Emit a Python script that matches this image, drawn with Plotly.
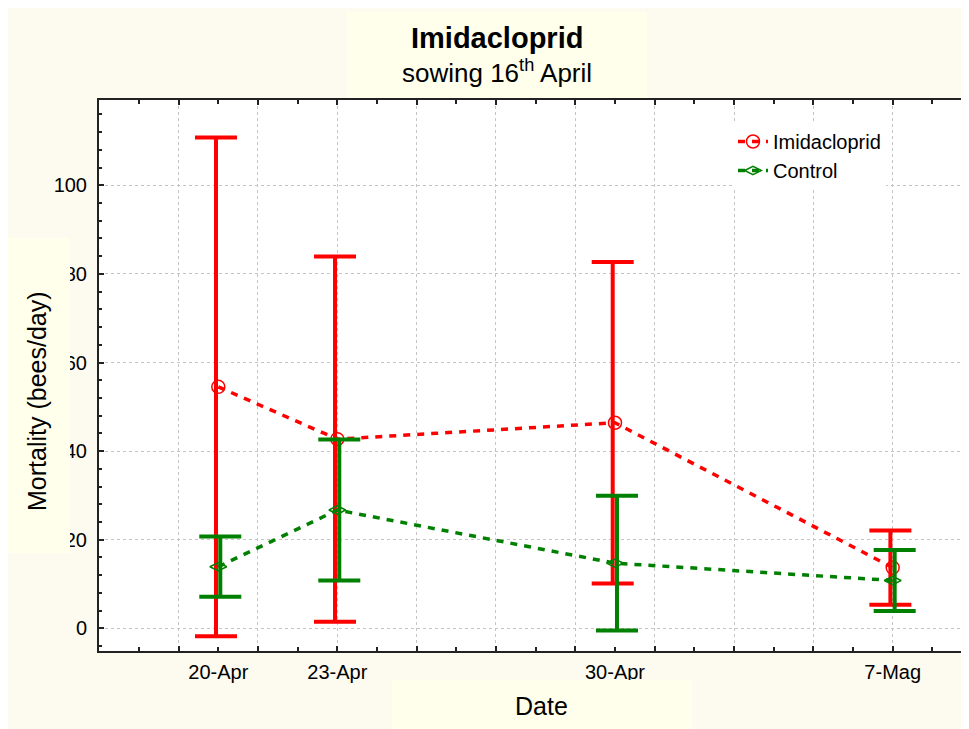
import plotly.graph_objects as go

# ---------------- data ----------------
dates = ["20-Apr", "23-Apr", "30-Apr", "7-Mag"]
day_index = [0, 3, 10, 17]              # days after 20 April
imid_mean = [54.5, 42.7, 46.4, 13.7]
imid_err = [56.3, 41.2, 36.3, 8.4]
ctrl_mean = [13.9, 26.7, 14.7, 10.8]
ctrl_err = [6.8, 15.9, 15.2, 6.9]
y_ticks = [0, 20, 40, 60, 80, 100]

# ---------------- layout helpers (page pixel coords) ----------------
OFF = 8                      # page body margin
W, H = 969 - OFF, 729 - OFF
L, R, T, B = 99, 969, 100, 651   # plot area in page pixels


def px(x):
    return (x - L) / (R - L)


def py(y):
    return (B - y) / (B - T)


RED = "#ff0000"
GREEN = "#008000"
CREAM = "rgb(253,250,240)"
BOX = "rgb(255,255,236)"
GRID = "#c4c4c4"
FONT = "Liberation Sans, Arial, sans-serif"
RED_SHIFT = -0.058
GREEN_SHIFT = 0.05

fig = go.Figure()

# Imidacloprid error bars
fig.add_trace(go.Scatter(
    x=[d + RED_SHIFT for d in day_index], y=imid_mean, mode="markers",
    marker=dict(size=2, opacity=0),
    error_y=dict(type="data", array=imid_err, color=RED, thickness=4, width=21),
    showlegend=False, hoverinfo="skip"))
# Imidacloprid line
fig.add_trace(go.Scatter(
    x=day_index, y=imid_mean, mode="lines+markers", name="Imidacloprid",
    line=dict(color=RED, width=3.5, dash="7px,7px"),
    marker=dict(symbol="circle-open", size=13, color=RED, line=dict(width=1.5, color=RED))))
# Control error bars
fig.add_trace(go.Scatter(
    x=[d + GREEN_SHIFT for d in day_index], y=ctrl_mean, mode="markers",
    marker=dict(size=2, opacity=0),
    error_y=dict(type="data", array=ctrl_err, color=GREEN, thickness=4, width=21),
    showlegend=False, hoverinfo="skip"))
# Control line
fig.add_trace(go.Scatter(
    x=day_index, y=ctrl_mean, mode="lines+markers", name="Control",
    line=dict(color=GREEN, width=3.5, dash="7px,7px"),
    marker=dict(symbol="diamond-wide-open", size=12, color=GREEN, line=dict(width=1.5, color=GREEN))))
# carrier for the date-label axis
fig.add_trace(go.Scatter(x=[], y=[], xaxis="x2", yaxis="y", showlegend=False, hoverinfo="skip"))

x_range = [(L - 218.3) / 39.67, (R - 218.3) / 39.67]
y_range = [(628.3 - B) / 4.43, (628.3 - T) / 4.43]

fig.update_layout(
    width=W, height=H,
    margin=dict(l=L - OFF, r=969 - R, t=T - OFF, b=729 - B, pad=0),
    paper_bgcolor=CREAM, plot_bgcolor="white",
    font=dict(family=FONT, color="black", size=20),
    showlegend=True,
    legend=dict(x=px(733), y=py(122), xanchor="left", yanchor="top",
                bgcolor="white", font=dict(size=20, family=FONT),
                itemwidth=30, tracegroupgap=0, borderwidth=0),
    xaxis=dict(range=x_range, tickmode="linear", tick0=-1, dtick=2,
               ticks="inside", ticklen=5, tickwidth=1.5, tickcolor="#222",
               showticklabels=False, showgrid=True, gridcolor=GRID, griddash="dot",
               gridwidth=1, zeroline=False, showline=True, linecolor="#222",
               linewidth=2, mirror="allticks",
               minor=dict(tick0=-1, dtick=1, ticks="inside", ticklen=4,
                          tickcolor="#222", tickwidth=1.5, showgrid=False)),
    xaxis2=dict(overlaying="x", anchor="y", side="bottom", range=x_range,
                tickmode="array", tickvals=day_index, ticktext=dates,
                ticks="", showgrid=False, zeroline=False, showline=False,
                tickfont=dict(size=20, family=FONT), ticklabelstandoff=7),
    yaxis=dict(range=y_range, tickmode="array", tickvals=y_ticks,
               ticks="inside", ticklen=5, tickwidth=1.5, tickcolor="#222",
               showgrid=True, gridcolor=GRID, griddash="dot", gridwidth=1,
               zeroline=False, showline=True, linecolor="#222", linewidth=2,
               tickfont=dict(size=20, family=FONT), ticklabelstandoff=6,
               minor=dict(tick0=0, dtick=4, ticks="inside", ticklen=3,
                          tickcolor="#222", tickwidth=1.5, showgrid=False)),
)

shapes = [
    # title box
    dict(type="rect", xref="paper", yref="paper", x0=px(347), x1=px(647),
         y0=py(98), y1=py(12), fillcolor=BOX, line=dict(width=0), layer="above"),
    # y-title box
    dict(type="rect", xref="paper", yref="paper", x0=px(OFF), x1=px(70),
         y0=py(553), y1=py(238), fillcolor=BOX, line=dict(width=0), layer="above"),
    # x-title box
    dict(type="rect", xref="paper", yref="paper", x0=px(392), x1=px(692),
         y0=py(729), y1=py(680), fillcolor=BOX, line=dict(width=0), layer="above"),
]
fig.update_layout(shapes=shapes)

fig.add_annotation(xref="paper", yref="paper", x=px(497), y=py(38),
                   text="<b>Imidacloprid</b>", showarrow=False,
                   font=dict(size=29, family=FONT), xanchor="center", yanchor="middle")
fig.add_annotation(xref="paper", yref="paper", x=px(497), y=py(71),
                   text="sowing 16<sup>th</sup> April", showarrow=False,
                   font=dict(size=26, family=FONT), xanchor="center", yanchor="middle")
fig.add_annotation(xref="paper", yref="paper", x=px(36.5), y=py(401.5),
                   text="Mortality (bees/day)", textangle=-90, showarrow=False,
                   font=dict(size=25, family=FONT), xanchor="center", yanchor="middle")
fig.add_annotation(xref="paper", yref="paper", x=px(541), y=py(706),
                   text="Date", showarrow=False,
                   font=dict(size=25, family=FONT), xanchor="center", yanchor="middle")

fig.write_html("out.html")
